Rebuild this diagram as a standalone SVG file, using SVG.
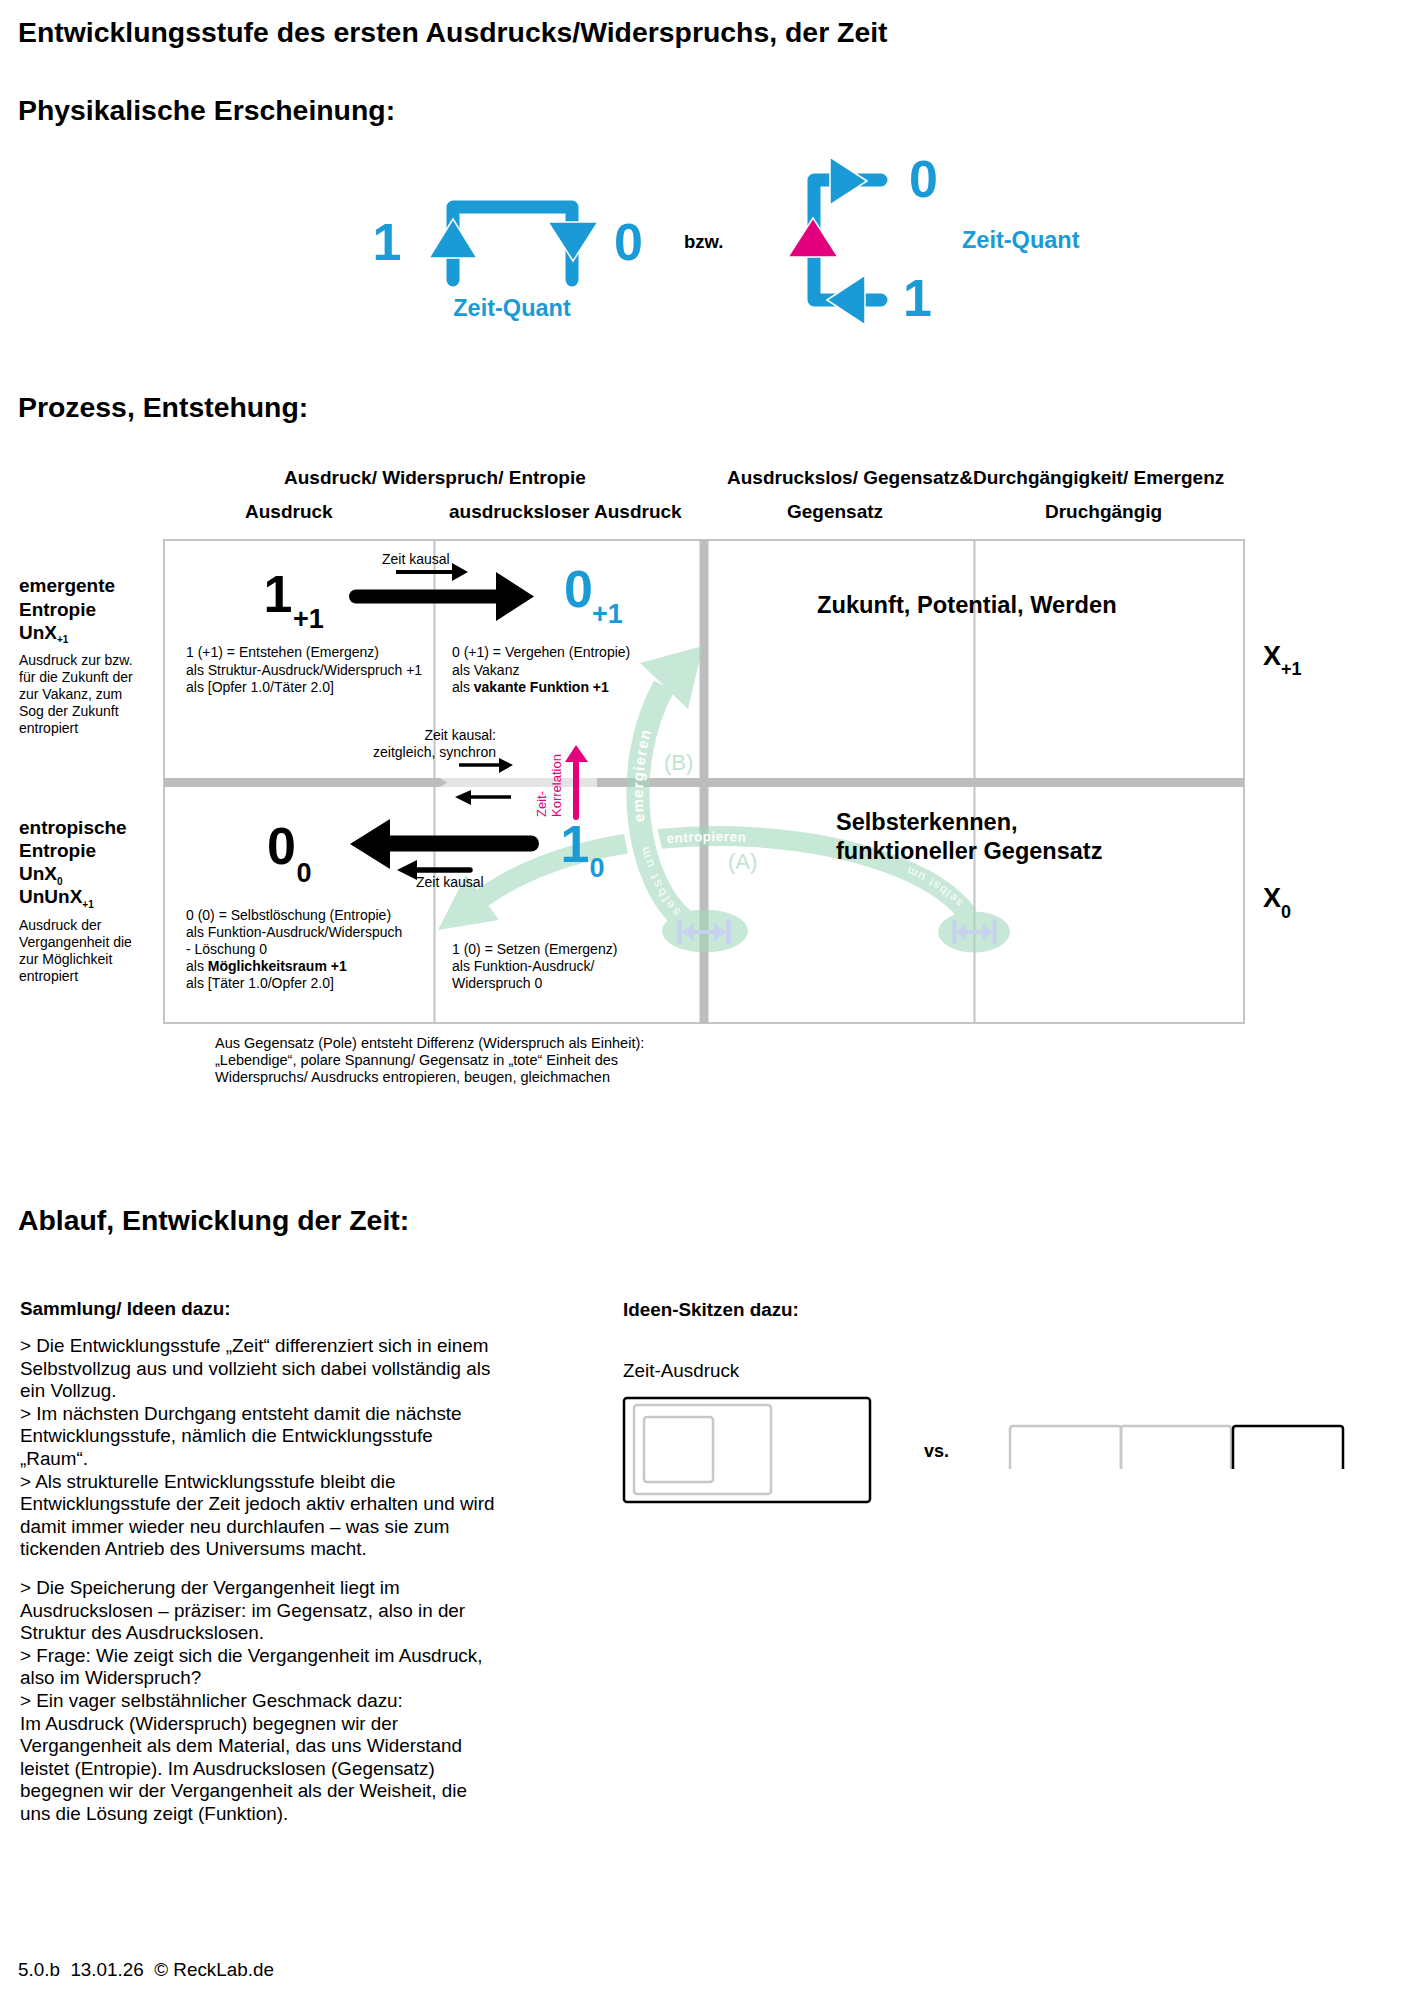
<svg xmlns="http://www.w3.org/2000/svg" width="1408" height="1992" viewBox="0 0 1408 1992">
<style>
text{font-family:"Liberation Sans",Arial,Helvetica,sans-serif}
.h1{font-size:28.4px;font-weight:bold}
.hd{font-size:19px;font-weight:bold}
.sm{font-size:14px}
.fn{font-size:14.5px}
.lab{font-size:19px;font-weight:bold}
.p{font-size:18.85px}
.b{font-weight:bold}
.blue{fill:#1a9ad7}
.pink{fill:#e4007c}
.big{font-size:52px;font-weight:bold}
.sub{font-size:27px;font-weight:bold}
.gridline{stroke:#c3c3c3;stroke-width:2;fill:none}
.thick{fill:#bdbdbd}
.tri{fill:#1a9ad7;stroke:#fff;stroke-width:1.5}
.qb{stroke:#1a9ad7;stroke-width:13;fill:none;stroke-linecap:round;stroke-linejoin:round}
.blk{fill:#000}
.gr{fill:#a3d9bb}
.grs{stroke:#a3d9bb;fill:none}
.lbl{font-size:22px;fill:#c2e3d0}
.wt{fill:#fff;font-weight:bold}
.sk{fill:none;stroke-width:2.5}
</style>
<defs>
<path id="pB" d="M 684 920 C 638 884, 618 770, 664 686"/>
<path id="pA" d="M 968 915 C 905 828, 620 800, 482 898"/>
<path id="pAr" d="M 482 898 C 620 800, 905 828, 968 915"/>
<mask id="mA" maskUnits="userSpaceOnUse" x="0" y="0" width="1408" height="1992">
<rect width="1408" height="1992" fill="#fff"/>
<use href="#pB" stroke="#000" stroke-width="34" fill="none"/>
</mask>
<g id="sym" fill="#c7d3ee">
<rect x="-27" y="-12" width="5" height="24"/>
<polygon points="-22,0 -10,-9 -10,9"/>
<rect x="-10" y="-2" width="20" height="4"/>
<polygon points="22,0 10,-9 10,9"/>
<rect x="22" y="-12" width="5" height="24"/>
</g>
</defs>
<rect width="1408" height="1992" fill="#fff"/>

<g id="title">
<text class="h1" x="18" y="42">Entwicklungsstufe des ersten Ausdrucks/Widerspruchs, der Zeit</text>
<text class="h1" x="18" y="120">Physikalische Erscheinung:</text>
</g>

<g id="quant1">
<path class="qb" d="M 453 280 L 453 207 L 572 207 L 572 280"/>
<polygon class="tri" points="453,219 429,258 477,258"/>
<polygon class="tri" points="573,261 548,222 598,222"/>
<text class="big blue" x="387" y="260" text-anchor="middle">1</text>
<text class="big blue" x="628.5" y="260" text-anchor="middle">0</text>
<text class="blue" x="512" y="316" text-anchor="middle" font-size="23.5" font-weight="bold">Zeit-Quant</text>
</g>
<g id="bzw"><text x="684" y="248" font-size="18.5" font-weight="bold">bzw.</text></g>
<g id="quant2">
<path class="qb" d="M 881 180 L 814 180 L 814 300 L 881 300"/>
<polygon class="tri" points="867,181 830,157 830,205"/>
<polygon points="813,218 788,257 838,257" fill="#e4007c" stroke="#fff" stroke-width="1.5"/>
<polygon class="tri" points="827,300 865,275 865,325"/>
<text class="big blue" x="923.5" y="197" text-anchor="middle">0</text>
<text class="big blue" x="917.5" y="316" text-anchor="middle">1</text>
<text class="blue" x="962" y="248" font-size="23.5" font-weight="bold">Zeit-Quant</text>
</g>

<g id="section2">
<text class="h1" x="18" y="417">Prozess, Entstehung:</text>
<text class="hd" x="284" y="484">Ausdruck/ Widerspruch/ Entropie</text>
<text class="hd" x="727" y="484">Ausdruckslos/ Gegensatz&amp;Durchgängigkeit/ Emergenz</text>
<text class="hd" x="245" y="518">Ausdruck</text>
<text class="hd" x="449" y="518">ausdrucksloser Ausdruck</text>
<text class="hd" x="787" y="518">Gegensatz</text>
<text class="hd" x="1045" y="518">Druchgängig</text>
</g>

<g id="grid">
<rect class="gridline" x="164" y="540" width="1080" height="483"/>
<line class="gridline" x1="434.5" y1="540" x2="434.5" y2="1023"/>
<line class="gridline" x1="974.5" y1="540" x2="974.5" y2="1023"/>
<rect x="164" y="778" width="433" height="9" fill="#e4e4e4"/>
<polygon class="thick" points="164,778 440,778 447,782.5 440,787 164,787"/>
<rect class="thick" x="597" y="778" width="647" height="9"/>
<rect class="thick" x="699.5" y="540" width="9" height="483"/>
</g>

<g id="green-flow">
<g opacity="0.6">
<ellipse class="gr" cx="705" cy="931" rx="43" ry="21.5"/>
<ellipse class="gr" cx="974" cy="932" rx="36" ry="20.5"/>
<g mask="url(#mA)">
<use href="#pA" class="grs" stroke-width="20"/>
<polygon class="gr" points="438,930 466,875 499,920"/>
</g>
<use href="#pB" class="grs" stroke-width="23"/>
<polygon class="gr" points="703,646 640,663 688,709"/>
</g>
<use href="#sym" transform="translate(704,932)"/>
<use href="#sym" transform="translate(974.5,932) scale(0.82,1)"/>
<text class="wt" font-size="15" letter-spacing="1.3" dy="5"><textPath href="#pB" startOffset="110">emergieren</textPath></text>
<text class="wt" font-size="13" letter-spacing="2" dy="5" opacity="0.7"><textPath href="#pB" startOffset="8">selbst um</textPath></text>
<text class="wt" font-size="13.5" letter-spacing="0.5" dy="5"><textPath href="#pAr" startOffset="196">entropieren</textPath></text>
<text class="wt" font-size="12" letter-spacing="1" dy="5" opacity="0.7"><textPath href="#pA" startOffset="12">selbst um</textPath></text>
<text class="lbl" x="664" y="770">(B)</text>
<text class="lbl" x="728" y="869">(A)</text>
</g>

<g id="row-top-label">
<text class="lab" x="19" y="592">emergente</text>
<text class="lab" x="19" y="615.5">Entropie</text>
<text class="lab" x="19" y="638.5">UnX<tspan font-size="10" dy="4.5">+1</tspan></text>
<text class="sm" x="19" y="665">Ausdruck zur bzw.</text>
<text class="sm" x="19" y="682">für die Zukunft der</text>
<text class="sm" x="19" y="699">zur Vakanz, zum</text>
<text class="sm" x="19" y="716">Sog der Zukunft</text>
<text class="sm" x="19" y="733">entropiert</text>
</g>
<g id="row-bottom-label">
<text class="lab" x="19" y="834">entropische</text>
<text class="lab" x="19" y="857">Entropie</text>
<text class="lab" x="19" y="880">UnX<tspan font-size="10" dy="5">0</tspan></text>
<text class="lab" x="19" y="903">UnUnX<tspan font-size="10" dy="5">+1</tspan></text>
<text class="sm" x="19" y="930">Ausdruck der</text>
<text class="sm" x="19" y="947">Vergangenheit die</text>
<text class="sm" x="19" y="964">zur Möglichkeit</text>
<text class="sm" x="19" y="981">entropiert</text>
</g>

<g id="cell-1plus1">
<text class="big" x="278" y="612" text-anchor="middle">1</text>
<text class="sub" x="293" y="628">+1</text>
<text class="sm" x="186" y="657">1 (+1) = Entstehen (Emergenz)</text>
<text class="sm" x="186" y="674.5">als Struktur-Ausdruck/Widerspruch +1</text>
<text class="sm" x="186" y="692">als [Opfer 1.0/Täter 2.0]</text>
</g>
<g id="cell-0plus1">
<text class="big blue" x="578.5" y="607" text-anchor="middle">0</text>
<text class="sub blue" x="592" y="623">+1</text>
<text class="sm" x="452" y="657">0 (+1) = Vergehen (Entropie)</text>
<text class="sm" x="452" y="674.5">als Vakanz</text>
<text class="sm" x="452" y="692">als <tspan class="b">vakante Funktion +1</tspan></text>
</g>
<g id="cell-00">
<text class="big" x="281.5" y="864" text-anchor="middle">0</text>
<text class="sub" x="304" y="882" text-anchor="middle">0</text>
<text class="sm" x="186" y="920">0 (0) = Selbstlöschung (Entropie)</text>
<text class="sm" x="186" y="937">als Funktion-Ausdruck/Widerspuch</text>
<text class="sm" x="186" y="954">- Löschung 0</text>
<text class="sm" x="186" y="971">als <tspan class="b">Möglichkeitsraum +1</tspan></text>
<text class="sm" x="186" y="988">als [Täter 1.0/Opfer 2.0]</text>
</g>
<g id="cell-10">
<text class="big blue" x="575" y="862" text-anchor="middle">1</text>
<text class="sub blue" x="597" y="877" text-anchor="middle">0</text>
<text class="sm" x="452" y="954">1 (0) = Setzen (Emergenz)</text>
<text class="sm" x="452" y="971">als Funktion-Ausdruck/</text>
<text class="sm" x="452" y="988">Widerspruch 0</text>
</g>
<g id="cell-future">
<text x="817" y="613" font-size="23.7" font-weight="bold">Zukunft, Potential, Werden</text>
</g>
<g id="cell-self">
<text x="836" y="830" font-size="23.5" font-weight="bold">Selbsterkennen,</text>
<text x="836" y="859" font-size="23.5" font-weight="bold">funktioneller Gegensatz</text>
</g>
<g id="levels">
<text x="1263" y="665" font-size="27" font-weight="bold">X<tspan font-size="18" dy="10">+1</tspan></text>
<text x="1263" y="907" font-size="27" font-weight="bold">X<tspan font-size="18" dy="11">0</tspan></text>
</g>

<g id="connectors">
<line x1="356" y1="596.5" x2="500" y2="596.5" stroke="#000" stroke-width="14" stroke-linecap="round"/>
<polygon class="blk" points="496,572 534,596.5 496,621"/>
<line x1="531" y1="843.5" x2="386" y2="843.5" stroke="#000" stroke-width="16" stroke-linecap="round"/>
<polygon class="blk" points="390,819 350,844 390,869"/>
<line x1="396" y1="572" x2="456" y2="572" stroke="#000" stroke-width="4"/>
<polygon class="blk" points="452,563 468,572 452,581"/>
<text class="sm" x="382" y="564">Zeit kausal</text>
<text class="sm" x="496" y="740" text-anchor="end">Zeit kausal:</text>
<text class="sm" x="496" y="757" text-anchor="end">zeitgleich, synchron</text>
<line x1="459" y1="765" x2="502" y2="765" stroke="#000" stroke-width="3.5"/>
<polygon class="blk" points="499,758 513,765 499,773"/>
<line x1="511" y1="797" x2="467" y2="797" stroke="#000" stroke-width="3.5"/>
<polygon class="blk" points="471,790 455,797 471,805"/>
<line x1="470" y1="870" x2="410" y2="870" stroke="#000" stroke-width="5.5" stroke-linecap="round"/>
<polygon class="blk" points="417,860 397,870 417,880"/>
<text class="sm" x="416" y="887">Zeit kausal</text>
<line x1="576" y1="817" x2="576" y2="758" stroke="#e4007c" stroke-width="6" stroke-linecap="round"/>
<polygon points="565,762 576,745 588,762" fill="#e4007c"/>
<text class="pink" transform="translate(546,817) rotate(-90)" font-size="13">Zeit-</text>
<text class="pink" transform="translate(561,817) rotate(-90)" font-size="13">Korrelation</text>
</g>

<g id="footnote">
<text class="fn" x="215" y="1048">Aus Gegensatz (Pole) entsteht Differenz (Widerspruch als Einheit):</text>
<text class="fn" x="215" y="1065">„Lebendige“, polare Spannung/ Gegensatz in „tote“ Einheit des</text>
<text class="fn" x="215" y="1082">Widerspruchs/ Ausdrucks entropieren, beugen, gleichmachen</text>
</g>

<g id="section3">
<text class="h1" x="18" y="1230">Ablauf, Entwicklung der Zeit:</text>
<text class="p b" x="20" y="1315">Sammlung/ Ideen dazu:</text>
<text class="p" x="20" y="1352">&gt; Die Entwicklungsstufe „Zeit“ differenziert sich in einem</text>
<text class="p" x="20" y="1374.6">Selbstvollzug aus und vollzieht sich dabei vollständig als</text>
<text class="p" x="20" y="1397.2">ein Vollzug.</text>
<text class="p" x="20" y="1419.8">&gt; Im nächsten Durchgang entsteht damit die nächste</text>
<text class="p" x="20" y="1442.4">Entwicklungsstufe, nämlich die Entwicklungsstufe</text>
<text class="p" x="20" y="1465">„Raum“.</text>
<text class="p" x="20" y="1487.6">&gt; Als strukturelle Entwicklungsstufe bleibt die</text>
<text class="p" x="20" y="1510.2">Entwicklungsstufe der Zeit jedoch aktiv erhalten und wird</text>
<text class="p" x="20" y="1532.8">damit immer wieder neu durchlaufen – was sie zum</text>
<text class="p" x="20" y="1555.4">tickenden Antrieb des Universums macht.</text>
<text class="p" x="20" y="1594">&gt; Die Speicherung der Vergangenheit liegt im</text>
<text class="p" x="20" y="1616.6">Ausdruckslosen – präziser: im Gegensatz, also in der</text>
<text class="p" x="20" y="1639.2">Struktur des Ausdruckslosen.</text>
<text class="p" x="20" y="1661.8">&gt; Frage: Wie zeigt sich die Vergangenheit im Ausdruck,</text>
<text class="p" x="20" y="1684.4">also im Widerspruch?</text>
<text class="p" x="20" y="1707">&gt; Ein vager selbstähnlicher Geschmack dazu:</text>
<text class="p" x="20" y="1729.6">Im Ausdruck (Widerspruch) begegnen wir der</text>
<text class="p" x="20" y="1752.2">Vergangenheit als dem Material, das uns Widerstand</text>
<text class="p" x="20" y="1774.8">leistet (Entropie). Im Ausdruckslosen (Gegensatz)</text>
<text class="p" x="20" y="1797.4">begegnen wir der Vergangenheit als der Weisheit, die</text>
<text class="p" x="20" y="1820">uns die Lösung zeigt (Funktion).</text>
</g>

<g id="sketches">
<text class="p b" x="623" y="1316">Ideen-Skitzen dazu:</text>
<text class="p" x="623" y="1377">Zeit-Ausdruck</text>
<rect class="sk" x="624" y="1398" width="246" height="104" rx="3" stroke="#000"/>
<rect class="sk" x="634" y="1405" width="137" height="89" rx="3" stroke="#c8c8c8"/>
<rect class="sk" x="644" y="1417" width="69" height="65" rx="3" stroke="#c8c8c8"/>
<text x="924" y="1457" font-size="18" font-weight="bold">vs.</text>
<path class="sk" stroke="#c8c8c8" d="M 1010 1469 V 1429 Q 1010 1426 1013 1426 H 1118 Q 1121 1426 1121 1429 V 1469"/>
<path class="sk" stroke="#c8c8c8" d="M 1121 1469 V 1429 Q 1121 1426 1124 1426 H 1228 Q 1231 1426 1231 1429 V 1469"/>
<path class="sk" stroke="#000" d="M 1233 1469 V 1429 Q 1233 1426 1236 1426 H 1340 Q 1343 1426 1343 1429 V 1469"/>
</g>

<g id="footer">
<text class="p" x="18" y="1976" xml:space="preserve">5.0.b  13.01.26  © ReckLab.de</text>
</g>
</svg>
